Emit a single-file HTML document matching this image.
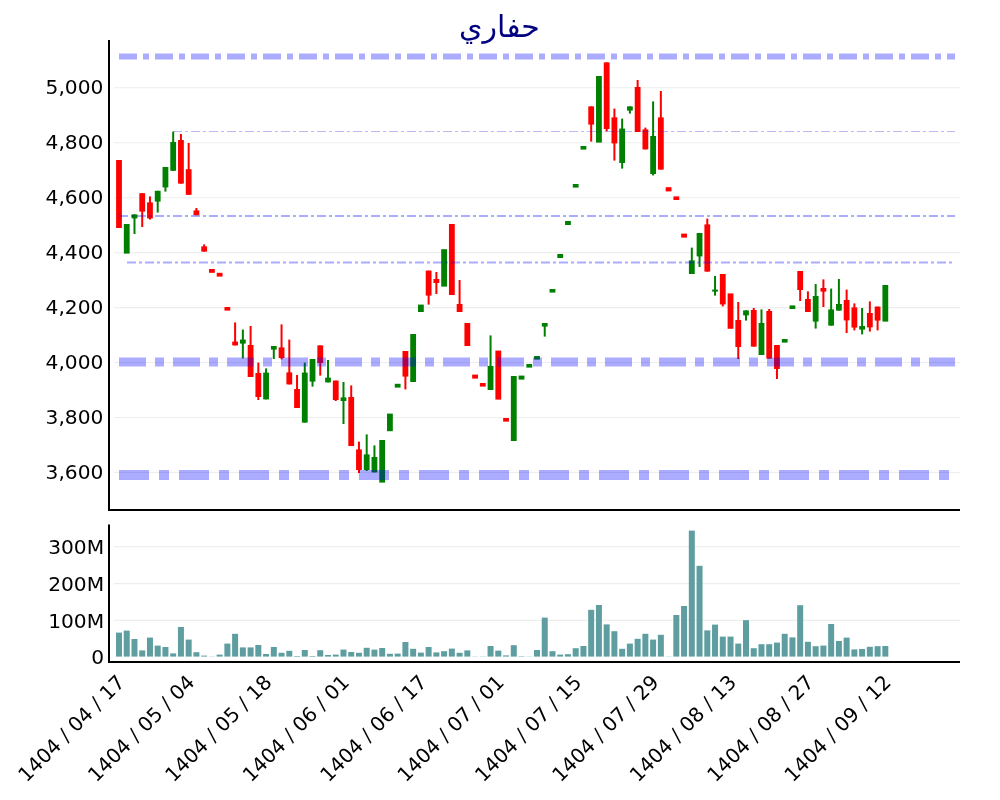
<!DOCTYPE html>
<html lang="fa"><head><meta charset="utf-8"><title>حفاري</title>
<style>html,body{margin:0;padding:0;background:#fff}body{width:1000px;height:800px;overflow:hidden}svg{display:block}text{font-family:"DejaVu Sans","Liberation Sans",sans-serif;fill:#000}</style></head><body>
<svg width="1000" height="800" viewBox="0 0 1000 800">
<rect width="1000" height="800" fill="#fff"/>
<g stroke="#eeeeee" stroke-width="1.1" fill="none">
<path d="M114 87.80H960"/>
<path d="M114 142.75H960"/>
<path d="M114 197.70H960"/>
<path d="M114 252.65H960"/>
<path d="M114 307.60H960"/>
<path d="M114 362.55H960"/>
<path d="M114 417.50H960"/>
<path d="M114 472.45H960"/>
<path d="M114 546.60H960"/>
<path d="M114 583.60H960"/>
<path d="M114 620.40H960"/>
</g>
<g fill="#5f9ea0">
<rect x="116.00" y="632.60" width="6.00" height="24.00"/>
<rect x="123.74" y="630.60" width="6.00" height="26.00"/>
<rect x="131.48" y="639.00" width="6.00" height="17.60"/>
<rect x="139.22" y="650.40" width="6.00" height="6.20"/>
<rect x="146.96" y="637.60" width="6.00" height="19.00"/>
<rect x="154.70" y="645.60" width="6.00" height="11.00"/>
<rect x="162.44" y="647.00" width="6.00" height="9.60"/>
<rect x="170.18" y="653.40" width="6.00" height="3.20"/>
<rect x="177.93" y="627.00" width="6.00" height="29.60"/>
<rect x="185.67" y="639.60" width="6.00" height="17.00"/>
<rect x="193.41" y="652.20" width="6.00" height="4.40"/>
<rect x="201.15" y="655.60" width="6.00" height="1.00"/>
<rect x="208.89" y="656.40" width="6.00" height="0.20"/>
<rect x="216.63" y="654.60" width="6.00" height="2.00"/>
<rect x="224.37" y="643.60" width="6.00" height="13.00"/>
<rect x="232.11" y="633.80" width="6.00" height="22.80"/>
<rect x="239.85" y="647.40" width="6.00" height="9.20"/>
<rect x="247.59" y="647.40" width="6.00" height="9.20"/>
<rect x="255.33" y="645.00" width="6.00" height="11.60"/>
<rect x="263.07" y="654.00" width="6.00" height="2.60"/>
<rect x="270.81" y="647.00" width="6.00" height="9.60"/>
<rect x="278.55" y="652.80" width="6.00" height="3.80"/>
<rect x="286.30" y="650.80" width="6.00" height="5.80"/>
<rect x="294.04" y="656.00" width="6.00" height="0.60"/>
<rect x="301.78" y="650.00" width="6.00" height="6.60"/>
<rect x="309.52" y="656.00" width="6.00" height="0.60"/>
<rect x="317.26" y="650.20" width="6.00" height="6.40"/>
<rect x="325.00" y="655.00" width="6.00" height="1.60"/>
<rect x="332.74" y="654.60" width="6.00" height="2.00"/>
<rect x="340.48" y="649.60" width="6.00" height="7.00"/>
<rect x="348.22" y="652.00" width="6.00" height="4.60"/>
<rect x="355.96" y="652.80" width="6.00" height="3.80"/>
<rect x="363.70" y="647.80" width="6.00" height="8.80"/>
<rect x="371.44" y="649.60" width="6.00" height="7.00"/>
<rect x="379.18" y="648.00" width="6.00" height="8.60"/>
<rect x="386.92" y="653.80" width="6.00" height="2.80"/>
<rect x="394.67" y="653.60" width="6.00" height="3.00"/>
<rect x="402.41" y="642.00" width="6.00" height="14.60"/>
<rect x="410.15" y="648.80" width="6.00" height="7.80"/>
<rect x="417.89" y="652.60" width="6.00" height="4.00"/>
<rect x="425.63" y="647.00" width="6.00" height="9.60"/>
<rect x="433.37" y="652.40" width="6.00" height="4.20"/>
<rect x="441.11" y="651.20" width="6.00" height="5.40"/>
<rect x="448.85" y="648.60" width="6.00" height="8.00"/>
<rect x="456.59" y="652.80" width="6.00" height="3.80"/>
<rect x="464.33" y="650.40" width="6.00" height="6.20"/>
<rect x="472.07" y="656.40" width="6.00" height="0.20"/>
<rect x="479.81" y="656.40" width="6.00" height="0.20"/>
<rect x="487.55" y="646.00" width="6.00" height="10.60"/>
<rect x="495.29" y="650.60" width="6.00" height="6.00"/>
<rect x="503.04" y="655.40" width="6.00" height="1.20"/>
<rect x="510.78" y="645.20" width="6.00" height="11.40"/>
<rect x="518.52" y="656.20" width="6.00" height="0.40"/>
<rect x="526.26" y="656.40" width="6.00" height="0.20"/>
<rect x="534.00" y="650.00" width="6.00" height="6.60"/>
<rect x="541.74" y="617.60" width="6.00" height="39.00"/>
<rect x="549.48" y="651.20" width="6.00" height="5.40"/>
<rect x="557.22" y="654.60" width="6.00" height="2.00"/>
<rect x="564.96" y="654.20" width="6.00" height="2.40"/>
<rect x="572.70" y="648.20" width="6.00" height="8.40"/>
<rect x="580.44" y="646.00" width="6.00" height="10.60"/>
<rect x="588.18" y="609.80" width="6.00" height="46.80"/>
<rect x="595.92" y="605.00" width="6.00" height="51.60"/>
<rect x="603.66" y="624.40" width="6.00" height="32.20"/>
<rect x="611.40" y="631.20" width="6.00" height="25.40"/>
<rect x="619.15" y="648.80" width="6.00" height="7.80"/>
<rect x="626.89" y="643.60" width="6.00" height="13.00"/>
<rect x="634.63" y="638.80" width="6.00" height="17.80"/>
<rect x="642.37" y="633.80" width="6.00" height="22.80"/>
<rect x="650.11" y="639.60" width="6.00" height="17.00"/>
<rect x="657.85" y="634.80" width="6.00" height="21.80"/>
<rect x="665.59" y="656.40" width="6.00" height="0.20"/>
<rect x="673.33" y="615.00" width="6.00" height="41.60"/>
<rect x="681.07" y="606.00" width="6.00" height="50.60"/>
<rect x="688.81" y="530.60" width="6.00" height="126.00"/>
<rect x="696.55" y="565.80" width="6.00" height="90.80"/>
<rect x="704.29" y="630.40" width="6.00" height="26.20"/>
<rect x="712.03" y="624.60" width="6.00" height="32.00"/>
<rect x="719.77" y="636.60" width="6.00" height="20.00"/>
<rect x="727.52" y="636.60" width="6.00" height="20.00"/>
<rect x="735.26" y="643.60" width="6.00" height="13.00"/>
<rect x="743.00" y="620.20" width="6.00" height="36.40"/>
<rect x="750.74" y="648.20" width="6.00" height="8.40"/>
<rect x="758.48" y="644.20" width="6.00" height="12.40"/>
<rect x="766.22" y="644.20" width="6.00" height="12.40"/>
<rect x="773.96" y="642.60" width="6.00" height="14.00"/>
<rect x="781.70" y="633.80" width="6.00" height="22.80"/>
<rect x="789.44" y="637.40" width="6.00" height="19.20"/>
<rect x="797.18" y="605.20" width="6.00" height="51.40"/>
<rect x="804.92" y="641.80" width="6.00" height="14.80"/>
<rect x="812.66" y="646.20" width="6.00" height="10.40"/>
<rect x="820.40" y="645.60" width="6.00" height="11.00"/>
<rect x="828.14" y="624.00" width="6.00" height="32.60"/>
<rect x="835.89" y="641.00" width="6.00" height="15.60"/>
<rect x="843.63" y="637.60" width="6.00" height="19.00"/>
<rect x="851.37" y="649.40" width="6.00" height="7.20"/>
<rect x="859.11" y="649.00" width="6.00" height="7.60"/>
<rect x="866.85" y="646.80" width="6.00" height="9.80"/>
<rect x="874.59" y="646.20" width="6.00" height="10.40"/>
<rect x="882.33" y="646.00" width="6.00" height="10.60"/>
</g>
<g fill="#ff0000" stroke="none">
<rect x="116.10" y="160.00" width="5.80" height="68.00"/>
<rect x="139.32" y="193.20" width="5.80" height="18.40"/>
<rect x="141.22" y="193.20" width="2" height="33.80"/>
<rect x="147.06" y="202.40" width="5.80" height="16.00"/>
<rect x="148.96" y="196.40" width="2" height="23.20"/>
<rect x="178.03" y="140.00" width="5.80" height="43.60"/>
<rect x="179.93" y="134.00" width="2" height="49.60"/>
<rect x="185.77" y="169.20" width="5.80" height="25.60"/>
<rect x="187.67" y="143.00" width="2" height="51.80"/>
<rect x="193.51" y="210.40" width="5.80" height="4.80"/>
<rect x="195.41" y="208.00" width="2" height="7.20"/>
<rect x="201.25" y="246.40" width="5.80" height="5.20"/>
<rect x="203.15" y="244.40" width="2" height="7.20"/>
<rect x="208.99" y="269.00" width="5.80" height="3.80"/>
<rect x="216.73" y="272.80" width="5.80" height="3.80"/>
<rect x="224.47" y="307.00" width="5.80" height="3.60"/>
<rect x="232.21" y="341.60" width="5.80" height="3.80"/>
<rect x="234.11" y="322.40" width="2" height="23.00"/>
<rect x="247.69" y="345.00" width="5.80" height="32.00"/>
<rect x="249.59" y="326.00" width="2" height="51.00"/>
<rect x="255.43" y="373.00" width="5.80" height="24.00"/>
<rect x="257.33" y="362.60" width="2" height="37.40"/>
<rect x="278.65" y="347.40" width="5.80" height="10.60"/>
<rect x="280.55" y="324.40" width="2" height="35.00"/>
<rect x="286.40" y="372.40" width="5.80" height="12.00"/>
<rect x="288.30" y="339.60" width="2" height="44.80"/>
<rect x="294.14" y="389.00" width="5.80" height="19.00"/>
<rect x="296.04" y="375.00" width="2" height="33.00"/>
<rect x="317.36" y="345.40" width="5.80" height="17.60"/>
<rect x="319.26" y="345.40" width="2" height="30.20"/>
<rect x="332.84" y="380.60" width="5.80" height="19.40"/>
<rect x="334.74" y="380.60" width="2" height="20.40"/>
<rect x="348.32" y="397.00" width="5.80" height="49.00"/>
<rect x="350.22" y="385.40" width="2" height="60.60"/>
<rect x="356.06" y="449.40" width="5.80" height="20.60"/>
<rect x="357.96" y="441.60" width="2" height="31.40"/>
<rect x="402.51" y="351.00" width="5.80" height="25.60"/>
<rect x="404.41" y="351.00" width="2" height="38.40"/>
<rect x="425.73" y="270.60" width="5.80" height="25.00"/>
<rect x="427.63" y="270.60" width="2" height="34.00"/>
<rect x="433.47" y="279.00" width="5.80" height="4.00"/>
<rect x="435.37" y="272.00" width="2" height="22.00"/>
<rect x="448.95" y="224.00" width="5.80" height="71.00"/>
<rect x="456.69" y="304.00" width="5.80" height="8.00"/>
<rect x="458.59" y="280.00" width="2" height="32.00"/>
<rect x="464.43" y="323.00" width="5.80" height="23.00"/>
<rect x="472.17" y="374.60" width="5.80" height="4.00"/>
<rect x="479.91" y="383.00" width="5.80" height="3.60"/>
<rect x="495.39" y="350.60" width="5.80" height="49.00"/>
<rect x="503.14" y="418.00" width="5.80" height="3.60"/>
<rect x="588.28" y="106.40" width="5.80" height="18.20"/>
<rect x="590.18" y="106.40" width="2" height="35.20"/>
<rect x="603.76" y="62.40" width="5.80" height="66.60"/>
<rect x="605.66" y="62.40" width="2" height="69.00"/>
<rect x="611.50" y="117.40" width="5.80" height="26.00"/>
<rect x="613.40" y="108.60" width="2" height="52.00"/>
<rect x="634.73" y="87.00" width="5.80" height="45.00"/>
<rect x="636.63" y="80.00" width="2" height="52.00"/>
<rect x="642.47" y="129.40" width="5.80" height="20.00"/>
<rect x="644.37" y="127.60" width="2" height="21.80"/>
<rect x="657.95" y="117.40" width="5.80" height="52.20"/>
<rect x="659.85" y="91.00" width="2" height="78.60"/>
<rect x="665.69" y="187.20" width="5.80" height="4.20"/>
<rect x="673.43" y="196.40" width="5.80" height="3.60"/>
<rect x="681.17" y="233.60" width="5.80" height="4.00"/>
<rect x="704.39" y="224.40" width="5.80" height="47.20"/>
<rect x="706.29" y="218.60" width="2" height="53.00"/>
<rect x="719.87" y="274.00" width="5.80" height="30.40"/>
<rect x="721.77" y="274.00" width="2" height="32.40"/>
<rect x="727.62" y="293.40" width="5.80" height="35.40"/>
<rect x="735.36" y="320.00" width="5.80" height="27.00"/>
<rect x="737.26" y="302.00" width="2" height="57.00"/>
<rect x="750.84" y="310.00" width="5.80" height="36.60"/>
<rect x="752.74" y="308.00" width="2" height="38.60"/>
<rect x="766.32" y="311.00" width="5.80" height="47.60"/>
<rect x="768.22" y="309.00" width="2" height="49.60"/>
<rect x="774.06" y="345.00" width="5.80" height="24.00"/>
<rect x="775.96" y="345.00" width="2" height="34.00"/>
<rect x="797.28" y="271.00" width="5.80" height="19.00"/>
<rect x="799.18" y="271.00" width="2" height="30.00"/>
<rect x="805.02" y="299.00" width="5.80" height="13.00"/>
<rect x="806.92" y="291.40" width="2" height="20.60"/>
<rect x="820.50" y="288.00" width="5.80" height="3.60"/>
<rect x="822.40" y="279.40" width="2" height="27.60"/>
<rect x="843.73" y="300.00" width="5.80" height="20.40"/>
<rect x="845.63" y="289.60" width="2" height="43.40"/>
<rect x="851.47" y="307.40" width="5.80" height="20.20"/>
<rect x="853.37" y="303.40" width="2" height="27.00"/>
<rect x="866.95" y="313.00" width="5.80" height="14.40"/>
<rect x="868.85" y="301.40" width="2" height="30.20"/>
<rect x="874.69" y="306.60" width="5.80" height="14.00"/>
<rect x="876.59" y="306.60" width="2" height="23.80"/>
</g>
<g fill="#008000" stroke="none">
<rect x="123.84" y="224.00" width="5.80" height="29.60"/>
<rect x="131.58" y="214.40" width="5.80" height="4.00"/>
<rect x="133.48" y="214.40" width="2" height="19.60"/>
<rect x="154.80" y="190.80" width="5.80" height="10.80"/>
<rect x="156.70" y="190.80" width="2" height="21.80"/>
<rect x="162.54" y="167.00" width="5.80" height="20.40"/>
<rect x="164.44" y="167.00" width="2" height="24.60"/>
<rect x="170.28" y="142.00" width="5.80" height="28.80"/>
<rect x="172.18" y="131.60" width="2" height="39.20"/>
<rect x="239.95" y="339.60" width="5.80" height="4.00"/>
<rect x="241.85" y="329.60" width="2" height="28.80"/>
<rect x="263.17" y="372.60" width="5.80" height="26.80"/>
<rect x="265.07" y="368.40" width="2" height="31.00"/>
<rect x="270.91" y="346.00" width="5.80" height="3.60"/>
<rect x="272.81" y="346.00" width="2" height="13.00"/>
<rect x="301.88" y="372.60" width="5.80" height="50.00"/>
<rect x="303.78" y="362.60" width="2" height="60.00"/>
<rect x="309.62" y="359.00" width="5.80" height="22.60"/>
<rect x="311.52" y="359.00" width="2" height="27.60"/>
<rect x="325.10" y="377.60" width="5.80" height="4.80"/>
<rect x="327.00" y="360.00" width="2" height="22.40"/>
<rect x="340.58" y="397.40" width="5.80" height="3.60"/>
<rect x="342.48" y="382.00" width="2" height="42.00"/>
<rect x="363.80" y="454.40" width="5.80" height="15.60"/>
<rect x="365.70" y="434.40" width="2" height="36.60"/>
<rect x="371.54" y="457.00" width="5.80" height="15.40"/>
<rect x="373.44" y="445.40" width="2" height="27.00"/>
<rect x="379.28" y="440.00" width="5.80" height="42.60"/>
<rect x="387.02" y="413.60" width="5.80" height="17.60"/>
<rect x="394.77" y="383.80" width="5.80" height="3.80"/>
<rect x="410.25" y="334.00" width="5.80" height="48.00"/>
<rect x="417.99" y="304.60" width="5.80" height="7.40"/>
<rect x="441.21" y="249.20" width="5.80" height="37.40"/>
<rect x="487.65" y="366.00" width="5.80" height="24.00"/>
<rect x="489.55" y="335.40" width="2" height="54.60"/>
<rect x="510.88" y="376.00" width="5.80" height="65.00"/>
<rect x="518.62" y="375.60" width="5.80" height="4.00"/>
<rect x="526.36" y="364.00" width="5.80" height="3.60"/>
<rect x="534.10" y="356.00" width="5.80" height="3.60"/>
<rect x="541.84" y="323.00" width="5.80" height="3.60"/>
<rect x="543.74" y="323.00" width="2" height="13.60"/>
<rect x="549.58" y="289.00" width="5.80" height="3.60"/>
<rect x="557.32" y="254.00" width="5.80" height="4.00"/>
<rect x="565.06" y="221.00" width="5.80" height="4.00"/>
<rect x="572.80" y="184.00" width="5.80" height="3.60"/>
<rect x="580.54" y="146.00" width="5.80" height="3.60"/>
<rect x="596.02" y="76.00" width="5.80" height="66.60"/>
<rect x="619.25" y="128.60" width="5.80" height="34.40"/>
<rect x="621.15" y="118.60" width="2" height="50.00"/>
<rect x="626.99" y="106.40" width="5.80" height="4.20"/>
<rect x="628.89" y="106.40" width="2" height="7.20"/>
<rect x="650.21" y="136.00" width="5.80" height="38.00"/>
<rect x="652.11" y="101.40" width="2" height="74.00"/>
<rect x="688.91" y="260.40" width="5.80" height="13.60"/>
<rect x="690.81" y="247.60" width="2" height="26.40"/>
<rect x="696.65" y="233.00" width="5.80" height="23.40"/>
<rect x="698.55" y="233.00" width="2" height="34.00"/>
<rect x="712.13" y="289.60" width="5.80" height="2.00"/>
<rect x="714.03" y="276.00" width="2" height="19.60"/>
<rect x="743.10" y="310.40" width="5.80" height="5.00"/>
<rect x="745.00" y="310.40" width="2" height="10.20"/>
<rect x="758.58" y="323.00" width="5.80" height="32.00"/>
<rect x="760.48" y="309.40" width="2" height="45.60"/>
<rect x="781.80" y="339.00" width="5.80" height="3.60"/>
<rect x="789.54" y="305.40" width="5.80" height="3.60"/>
<rect x="812.76" y="296.00" width="5.80" height="25.60"/>
<rect x="814.66" y="284.00" width="2" height="44.60"/>
<rect x="828.24" y="309.40" width="5.80" height="16.20"/>
<rect x="830.14" y="288.60" width="2" height="37.00"/>
<rect x="835.99" y="304.00" width="5.80" height="6.60"/>
<rect x="837.89" y="279.00" width="2" height="31.60"/>
<rect x="859.21" y="326.00" width="5.80" height="3.60"/>
<rect x="861.11" y="308.00" width="2" height="26.40"/>
<rect x="882.43" y="285.00" width="5.80" height="36.60"/>
</g>
<g stroke="rgba(0,0,255,0.33)" fill="none">
<path d="M119.0 56.50H955.0" stroke-width="6" stroke-dasharray="18,6,6,6"/>
<path d="M173.0 131.50H955.0" stroke-width="1" stroke-dasharray="9,3,3,3" stroke="rgba(30,30,230,0.3)"/>
<path d="M119.0 216.00H955.0" stroke-width="2" stroke-dasharray="9,3,3,3"/>
<path d="M127.0 262.50H955.0" stroke-width="2" stroke-dasharray="9,3,3,3"/>
<path d="M119.0 361.90H955.0" stroke-width="9" stroke-dasharray="27,9,9,9"/>
<path d="M119.0 475.00H955.0" stroke-width="10" stroke-dasharray="30,10,10,10"/>
</g>
<g stroke="#000" stroke-width="2" fill="none">
<path d="M109 40V511"/><path d="M108 510H960"/>
<path d="M109 524.4V663"/><path d="M108 662H960"/>
</g>
<g font-size="20.2" text-anchor="end">
<text x="103.4" y="94.40">5,000</text>
<text x="103.4" y="149.35">4,800</text>
<text x="103.4" y="204.30">4,600</text>
<text x="103.4" y="259.25">4,400</text>
<text x="103.4" y="314.20">4,200</text>
<text x="103.4" y="369.15">4,000</text>
<text x="103.4" y="424.10">3,800</text>
<text x="103.4" y="479.05">3,600</text>
<text x="104.1" y="553.80">300M</text>
<text x="104.1" y="590.80">200M</text>
<text x="104.1" y="627.60">100M</text>
<text x="104.1" y="663.80">0</text>
</g>
<g font-size="20" text-anchor="end">
<text transform="translate(126.00,683.50) rotate(-45)" x="0" y="0">1404 / 04 / 17</text>
<text transform="translate(195.67,683.50) rotate(-45)" x="0" y="0">1404 / 05 / 04</text>
<text transform="translate(273.07,683.50) rotate(-45)" x="0" y="0">1404 / 05 / 18</text>
<text transform="translate(350.48,683.50) rotate(-45)" x="0" y="0">1404 / 06 / 01</text>
<text transform="translate(427.89,683.50) rotate(-45)" x="0" y="0">1404 / 06 / 17</text>
<text transform="translate(505.29,683.50) rotate(-45)" x="0" y="0">1404 / 07 / 01</text>
<text transform="translate(582.70,683.50) rotate(-45)" x="0" y="0">1404 / 07 / 15</text>
<text transform="translate(660.11,683.50) rotate(-45)" x="0" y="0">1404 / 07 / 29</text>
<text transform="translate(737.52,683.50) rotate(-45)" x="0" y="0">1404 / 08 / 13</text>
<text transform="translate(814.92,683.50) rotate(-45)" x="0" y="0">1404 / 08 / 27</text>
<text transform="translate(892.33,683.50) rotate(-45)" x="0" y="0">1404 / 09 / 12</text>
</g>
<text x="499.5" y="36.6" font-size="30" text-anchor="middle" style="fill:#000080" direction="rtl">حفاري</text>
</svg></body></html>
